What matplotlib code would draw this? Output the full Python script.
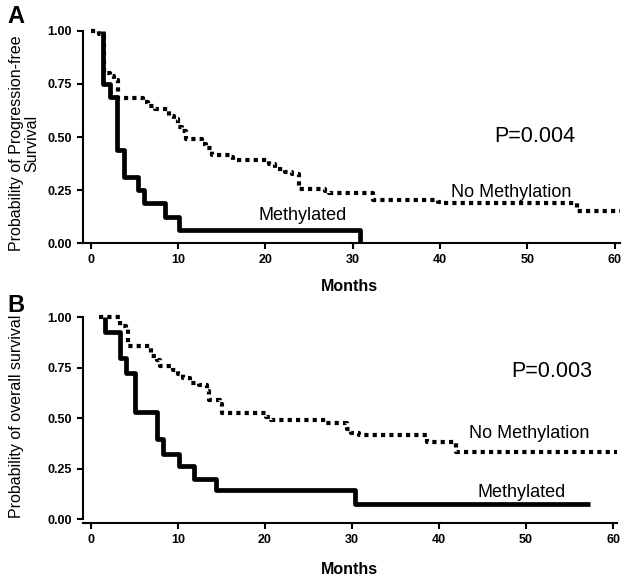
import matplotlib
matplotlib.use('Agg')
import matplotlib.pyplot as plt

plt.rcParams['font.family'] = ['Liberation Sans', 'DejaVu Sans']

# Panel A: progression-free survival (months, probability)
pfs_meth_t = [1.44, 1.44, 2.2, 3.0, 3.8, 5.4, 6.1, 8.5, 10.1, 30.8]
pfs_meth_s = [1.0, 0.75, 0.6875, 0.4375, 0.3125, 0.25, 0.1875, 0.125, 0.0625, 0.0]
pfs_nometh_t = [0, 0.9, 1.5, 2.2, 2.7, 3.1, 6.0, 6.6, 7.4, 9.0, 9.5, 10.0, 10.5,
                10.9, 12.7, 13.2, 13.9, 15.9, 16.3, 20.4, 21.1, 22.3, 23.0, 23.8,
                26.8, 27.3, 32.3, 39.8, 40.3, 55.7, 60.6]
pfs_nometh_s = [1.0, 0.985, 0.80, 0.785, 0.77, 0.685, 0.665, 0.648, 0.632, 0.60,
                0.585, 0.548, 0.53, 0.49, 0.465, 0.448, 0.415, 0.405, 0.393, 0.375,
                0.35, 0.335, 0.325, 0.257, 0.245, 0.236, 0.203, 0.193, 0.188,
                0.153, 0.153]

# Panel B: overall survival
os_meth_t = [1.64, 1.64, 3.35, 4.1, 5.07, 7.6, 8.3, 10.1, 11.9, 14.4, 30.3, 57.4]
os_meth_s = [1.0, 0.926, 0.80, 0.723, 0.529, 0.398, 0.321, 0.265, 0.197, 0.144,
             0.074, 0.074]
os_nometh_t = [0.9, 3.35, 4.0, 4.3, 6.9, 7.6, 8.0, 9.4, 10.0, 10.6, 11.4, 12.4,
               13.4, 13.6, 14.8, 15.1, 20.1, 20.7, 27.0, 29.4, 29.9, 30.8, 38.6,
               42.0, 60.5]
os_nometh_s = [1.0, 0.955, 0.94, 0.857, 0.81, 0.79, 0.757, 0.74, 0.72, 0.70,
               0.675, 0.665, 0.635, 0.59, 0.57, 0.525, 0.508, 0.49, 0.475, 0.445,
               0.425, 0.415, 0.385, 0.335, 0.335]

xticks = [0, 10, 20, 30, 40, 50, 60]
yticks = [0.0, 0.25, 0.5, 0.75, 1.0]

W, H = 629, 584
fig = plt.figure(figsize=(W / 100, H / 100), dpi=100)


def px_axes(left, right, top, bottom):
    return fig.add_axes([left / W, 1 - bottom / H, (right - left) / W, (bottom - top) / H])


def style(ax, xlim, ylim):
    ax.set_xlim(*xlim)
    ax.set_ylim(*ylim)
    ax.spines['top'].set_visible(False)
    ax.spines['right'].set_visible(False)
    for s in ('left', 'bottom'):
        ax.spines[s].set_linewidth(1.5)
    ax.spines['left'].set_bounds(0, 1)
    ax.set_xticks(xticks)
    ax.set_yticks(yticks)
    ax.set_yticklabels(['%.2f' % v for v in yticks])
    ax.tick_params(direction='out', length=4, width=1.5, labelsize=9, pad=4)
    for lab in ax.get_xticklabels() + ax.get_yticklabels():
        lab.set_fontweight('bold')


def draw(ax, t1, s1, t2, s2):
    ax.step(t2, s2, where='post', color='black', lw=3.0,
            linestyle=(0, (1, 1)), dash_capstyle='butt', clip_on=False)
    ax.step(t1, s1, where='post', color='black', lw=3.4,
            solid_capstyle='butt', clip_on=False)


axA = px_axes(83, 620, 30.7, 243.3)
draw(axA, pfs_meth_t, pfs_meth_s, pfs_nometh_t, pfs_nometh_s)
style(axA, (-0.88, 60.6), (0, 1))
axA.text(24.3, 0.13, 'Methylated', fontsize=13, ha='center', va='center')
axA.text(48.1, 0.24, 'No Methylation', fontsize=13, ha='center', va='center')
axA.text(50.9, 0.50, 'P=0.004', fontsize=15.5, ha='center', va='center')
axA.text(-0.11, 0.47, 'Probability of Progression-free\nSurvival', transform=axA.transAxes,
         rotation=90, ha='center', va='center', fontsize=11.5, linespacing=1.05)

axB = px_axes(83, 617, 317.3, 523.3)
draw(axB, os_meth_t, os_meth_s, os_nometh_t, os_nometh_s)
style(axB, (-0.885, 60.45), (-0.02, 1))
axB.text(49.5, 0.133, 'Methylated', fontsize=13, ha='center', va='center')
axB.text(50.4, 0.423, 'No Methylation', fontsize=13, ha='center', va='center')
axB.text(52.9, 0.73, 'P=0.003', fontsize=15.5, ha='center', va='center')
axB.text(-0.125, 0.52, 'Probability of overall survival', transform=axB.transAxes,
         rotation=90, ha='center', va='center', fontsize=11.5)

fig.text(349 / W, 1 - 286 / H, 'Months', ha='center', va='center',
         fontsize=11.5, fontweight='bold')
fig.text(349 / W, 1 - 570 / H, 'Months', ha='center', va='center',
         fontsize=11.5, fontweight='bold')
fig.text(16 / W, 1 - 16.5 / H, 'A', ha='center', va='center', fontsize=17, fontweight='bold')
fig.text(16 / W, 1 - 305 / H, 'B', ha='center', va='center', fontsize=17, fontweight='bold')

fig.savefig('out.png', dpi=100)
